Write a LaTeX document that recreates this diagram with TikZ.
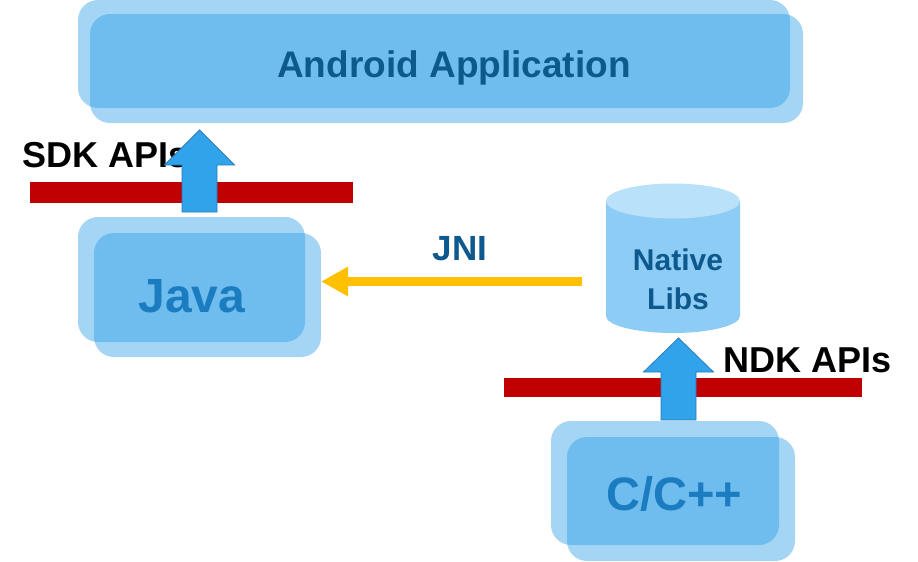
\documentclass[tikz,border=0pt]{standalone}
\usepackage{xcolor}
\usepackage{fontspec}
\setmainfont{Liberation Sans}
\usetikzlibrary{arrows.meta}

\begin{document}
\begin{tikzpicture}[x=1pt,y=-1pt,
    layer/.style={fill=boxblue,fill opacity=.4,rounded corners=20pt,inner sep=0pt},
    apibar/.style={fill=barred,inner sep=0pt},
    blockarrow/.style={fill=arrowblue,draw=arrowedge,line width=.8pt},
    label/.style={font=\bfseries,inner sep=0pt,anchor=base}]
  \definecolor{boxblue}{RGB}{30,150,230}%
  \definecolor{barred}{RGB}{192,0,0}%
  \definecolor{arrowblue}{RGB}{48,163,234}%
  \definecolor{arrowedge}{RGB}{43,123,190}%
  \definecolor{darkblue}{RGB}{13,88,140}%
  \definecolor{midblue}{RGB}{28,124,192}%
  \definecolor{jniyellow}{RGB}{255,192,0}%
  \definecolor{libbody}{RGB}{141,204,245}%
  \definecolor{libtop}{RGB}{186,225,250}%
  \useasboundingbox (0,0) rectangle (918,562);
  % boxes, two layers each
  \node[layer,minimum width=712,minimum height=108] (appA) at (434,54) {};
  \node[layer,minimum width=713,minimum height=109] (appB) at (446.5,68.5) {};
  \node[layer,minimum width=227,minimum height=125] (javaA) at (191.5,279.5) {};
  \node[layer,minimum width=227,minimum height=124] (javaB) at (207.5,295) {};
  \node[layer,minimum width=228,minimum height=124] (cppA) at (665,483) {};
  \node[layer,minimum width=228,minimum height=124] (cppB) at (681,499) {};
  \node[label,text=darkblue,font=\bfseries\fontsize{37}{44}\selectfont] (app) at (454,77) {Android Application};
  \node[label,text=midblue,font=\bfseries\fontsize{48}{56}\selectfont] (java) at (192,312) {Java};
  \node[label,text=midblue,font=\bfseries\fontsize{47}{56}\selectfont] (cpp) at (674,510) {C/C++};
  % native libs
  \fill[libbody] (606,201) -- (606,316) arc (180:0:67 and 17) -- (740,201) -- cycle;
  \fill[libtop] (673,201) ellipse (67 and 17.5);
  \node[label,text=darkblue,font=\bfseries\fontsize{30}{36}\selectfont] (libs) at (678,270) {Native};
  \node[label,text=darkblue,font=\bfseries\fontsize{30}{36}\selectfont] (libs2) at (678,309) {Libs};
  % api layers
  \node[apibar,minimum width=323,minimum height=21] (sdkbar) at (191.5,192.5) {};
  \node[apibar,minimum width=358,minimum height=19] (ndkbar) at (683,387.5) {};
  \node[label,anchor=base west,font=\bfseries\fontsize{36}{44}\selectfont] (sdk) at (22,167) {SDK APIs};
  \node[label,anchor=base west,font=\bfseries\fontsize{36}{44}\selectfont] (ndk) at (723,372) {NDK APIs};
  \foreach \cx/\yb/\yh/\yt in {199.5/212/165/130, 678.5/420/372/338}{
    \draw[blockarrow] (\cx-17.5,\yb) -- (\cx-17.5,\yh) -- (\cx-35,\yh) -- (\cx,\yt)
      -- (\cx+35,\yh) -- (\cx+17.5,\yh) -- (\cx+17.5,\yb) -- cycle;
  }
  % jni
  \coordinate (jni) at (582,281.5);
  \draw[jniyellow,line width=9pt,-{Triangle[width=28pt,length=27pt]}] (jni) -- (javaB.east |- jni);
  \node[label,text=darkblue,font=\bfseries\fontsize{35}{42}\selectfont] (jnitext) at (460,260) {JNI};
\end{tikzpicture}
\end{document}
